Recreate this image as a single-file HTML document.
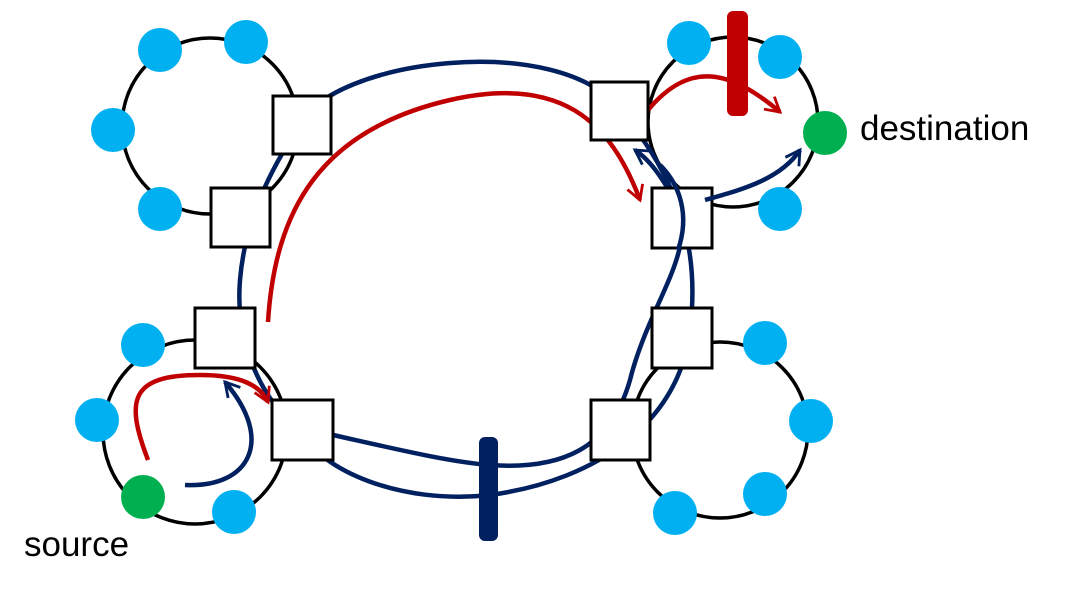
<!DOCTYPE html>
<html><head><style>
html,body{margin:0;padding:0;background:#fff;width:1080px;height:595px;overflow:hidden}
text{font-family:"Liberation Sans",sans-serif}
</style></head><body>
<svg width="1080" height="595" viewBox="0 0 1080 595" xmlns="http://www.w3.org/2000/svg">
<defs>
<marker id="ar" viewBox="0 0 10 10" refX="8" refY="5" markerWidth="4.5" markerHeight="4.5" orient="auto" markerUnits="strokeWidth"><path d="M1,1 L8,5 L1,9" fill="none" stroke="#c00000" stroke-width="1.4"/></marker>
<marker id="ab" viewBox="0 0 10 10" refX="8" refY="5" markerWidth="4.5" markerHeight="4.5" orient="auto" markerUnits="strokeWidth"><path d="M1,1 L8,5 L1,9" fill="none" stroke="#002060" stroke-width="1.4"/></marker>
</defs>
<g fill="none" stroke="#000" stroke-width="3.5">
<circle cx="210" cy="126" r="88"/>
<circle cx="195" cy="432" r="92"/>
<circle cx="733" cy="122" r="85"/>
<circle cx="720" cy="430" r="88"/>
</g>
<g fill="none" stroke="#002060" stroke-width="4.5">
<path d="M300,125 C330,60 560,30 620,110 C680,180 700,250 690,330 C680,420 600,480 490,495 C400,505 320,470 300,430 C260,400 235,340 240,280 C245,220 270,170 300,125"/>
<path d="M333,435 C400,450 450,462 490,465 C560,470 610,450 630,380 C650,300 700,250 675,200 C660,175 650,160 635,150" marker-end="url(#ab)"/>
<path d="M185,485 C250,488 275,440 225,382" marker-end="url(#ab)"/>
</g>
<g fill="none" stroke="#c00000" stroke-width="4.5">
<path d="M268,322 C275,210 320,130 450,100 C560,75 610,120 640,200" marker-end="url(#ar)"/>
<path d="M648,110 C690,60 730,70 780,112" marker-end="url(#ar)"/>
<path d="M148,460 C125,400 130,375 200,375 C240,375 260,385 268,402" marker-end="url(#ar)"/>
</g>
<g fill="#fff" stroke="#000" stroke-width="3">
<rect x="273" y="96" width="58" height="58"/>
<rect x="211" y="188" width="59" height="59"/>
<rect x="195" y="308" width="60" height="60"/>
<rect x="272" y="400" width="61" height="60"/>
<rect x="591" y="82" width="57" height="58"/>
<rect x="652" y="188" width="60" height="60"/>
<rect x="652" y="308" width="60" height="60"/>
<rect x="591" y="400" width="59" height="60"/>
</g>
<path d="M678,250 C690,215 680,185 660,165" stroke="#002060" stroke-width="4.5" fill="none"/>
<path d="M705,200 C740,190 780,180 800,150" stroke="#002060" stroke-width="4.5" fill="none" marker-end="url(#ab)"/>
<rect x="479" y="437" width="19" height="104" rx="6" fill="#002060"/>
<rect x="727" y="11" width="21" height="105" rx="6" fill="#c00000"/>
<g fill="#00b0f0">
<circle cx="160" cy="50" r="22"/><circle cx="246" cy="42" r="22"/>
<circle cx="113" cy="130" r="22"/><circle cx="160" cy="209" r="22"/>
<circle cx="143" cy="345" r="22"/><circle cx="97" cy="420" r="22"/>
<circle cx="234" cy="512" r="22"/>
<circle cx="689" cy="43" r="22"/><circle cx="780" cy="57" r="22"/>
<circle cx="780" cy="209" r="22"/>
<circle cx="765" cy="343" r="22"/><circle cx="811" cy="421" r="22"/>
<circle cx="765" cy="494" r="22"/><circle cx="675" cy="513" r="22"/>
</g>
<g fill="#00b050">
<circle cx="143" cy="497" r="22"/>
<circle cx="825" cy="133" r="22"/>
</g>
<text x="24" y="556" font-size="35" fill="#000">source</text>
<text x="860" y="140" font-size="35" fill="#000">destination</text>
</svg>
</body></html>
